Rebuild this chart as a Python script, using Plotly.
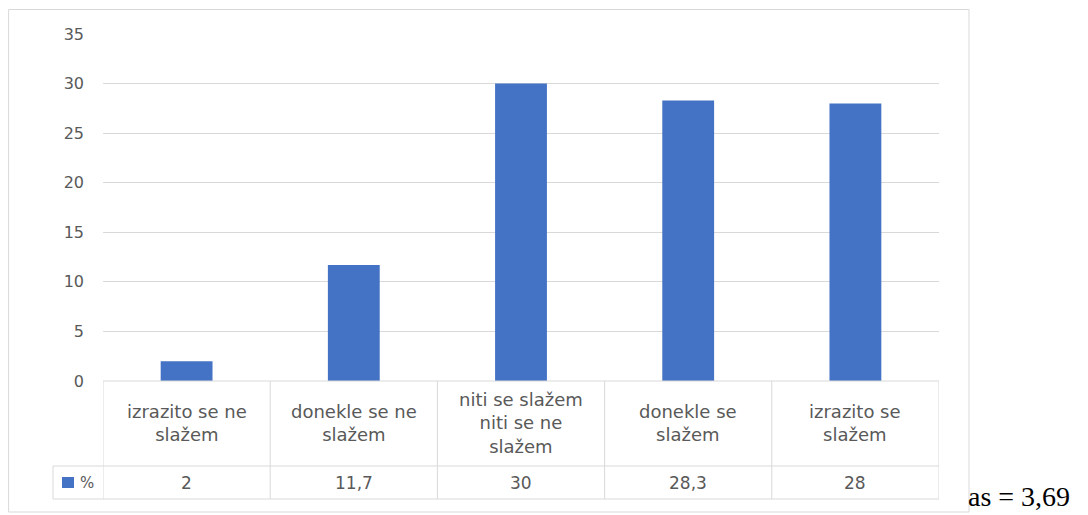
import plotly.graph_objects as go

# ---- data ----
categories = ["izrazito se ne<br>slažem", "donekle se ne<br>slažem",
              "niti se slažem<br>niti se ne<br>slažem", "donekle se<br>slažem",
              "izrazito se<br>slažem"]
values = [2, 11.7, 30, 28.3, 28]
series_name = "%"
y_ticks = [0, 5, 10, 15, 20, 25, 30, 35]
side_note = "as = 3,69"

# page body margin offsets the figure by 8px; design in screen pixels
OFF = 8
W, H = 1080, 507
def px(x):
    return (x - OFF) / W
def py(y):
    return (H - (y - OFF)) / H

BLUE = "#4472C4"
GRID = "#D9D9D9"
TXT = "#595959"
FONT = "DejaVu Sans"

fig = go.Figure()
xs = list(range(len(values)))
fig.add_trace(go.Bar(x=xs, y=values, name=series_name, marker_color=BLUE,
                     marker_line_width=0, showlegend=False))

shapes = []
ann = []
# outer border
shapes.append(dict(type="rect", xref="paper", yref="paper", x0=px(8.6), x1=px(969),
                   y0=py(512), y1=py(9.5), line=dict(color=GRID, width=1)))
# table lines
t_top, t_mid, t_bot = py(381), py(466), py(499)
n = len(values)
shapes.append(dict(type="line", xref="x", yref="paper", x0=-0.5, x1=n - 0.5,
                   y0=t_top, y1=t_top, line=dict(color=GRID, width=1)))
for yy in (t_mid, t_bot):
    shapes.append(dict(type="line", xref="paper", yref="paper", x0=px(53), x1=px(939),
                       y0=yy, y1=yy, line=dict(color=GRID, width=1)))
shapes.append(dict(type="line", xref="paper", yref="paper", x0=px(53), x1=px(53),
                   y0=t_mid, y1=t_bot, line=dict(color=GRID, width=1)))
for i in range(n + 1):
    shapes.append(dict(type="line", xref="x", yref="paper", x0=i - 0.5, x1=i - 0.5,
                       y0=t_top, y1=t_bot, line=dict(color=GRID, width=1)))
# legend key
shapes.append(dict(type="rect", xref="paper", yref="paper", x0=px(62), x1=px(74),
                   y0=py(488), y1=py(477), fillcolor=BLUE, line=dict(width=0)))
ann.append(dict(xref="paper", yref="paper", x=px(78), y=py(482.5), text=series_name,
                showarrow=False, xanchor="left", yanchor="middle",
                font=dict(family=FONT, size=15, color=TXT)))
# category labels and values
for i, (c, v) in enumerate(zip(categories, values)):
    ann.append(dict(xref="x", yref="paper", x=i, y=py(423), text=c, showarrow=False,
                    xanchor="center", yanchor="middle",
                    font=dict(family=FONT, size=18, color=TXT)))
    ann.append(dict(xref="x", yref="paper", x=i, y=py(482.5),
                    text=f"{v:g}".replace(".", ","), showarrow=False,
                    xanchor="center", yanchor="middle",
                    font=dict(family=FONT, size=17, color=TXT)))
# side note
ann.append(dict(xref="paper", yref="paper", x=px(966), y=py(514), text=side_note,
                showarrow=False, xanchor="left", yanchor="bottom",
                font=dict(family="Liberation Serif", size=28, color="#000000")))

fig.update_layout(
    template="none",
    width=W, height=H, autosize=False,
    margin=dict(l=0, r=0, t=0, b=0, pad=0),
    paper_bgcolor="white", plot_bgcolor="white",
    bargap=0.69,
    shapes=shapes, annotations=ann,
    xaxis=dict(domain=[px(103), px(939)], range=[-0.5, n - 0.5], automargin=False,
               showticklabels=False, showgrid=False, zeroline=False, showline=False),
    yaxis=dict(domain=[py(381), py(34)], range=[0, 35], tickvals=y_ticks, automargin=False,
               showgrid=True, gridcolor=GRID, gridwidth=1, zeroline=False,
               showline=False, ticks="", ticklabelstandoff=18,
               tickfont=dict(family=FONT, size=16, color=TXT)),
)

fig.write_html("out.html")
